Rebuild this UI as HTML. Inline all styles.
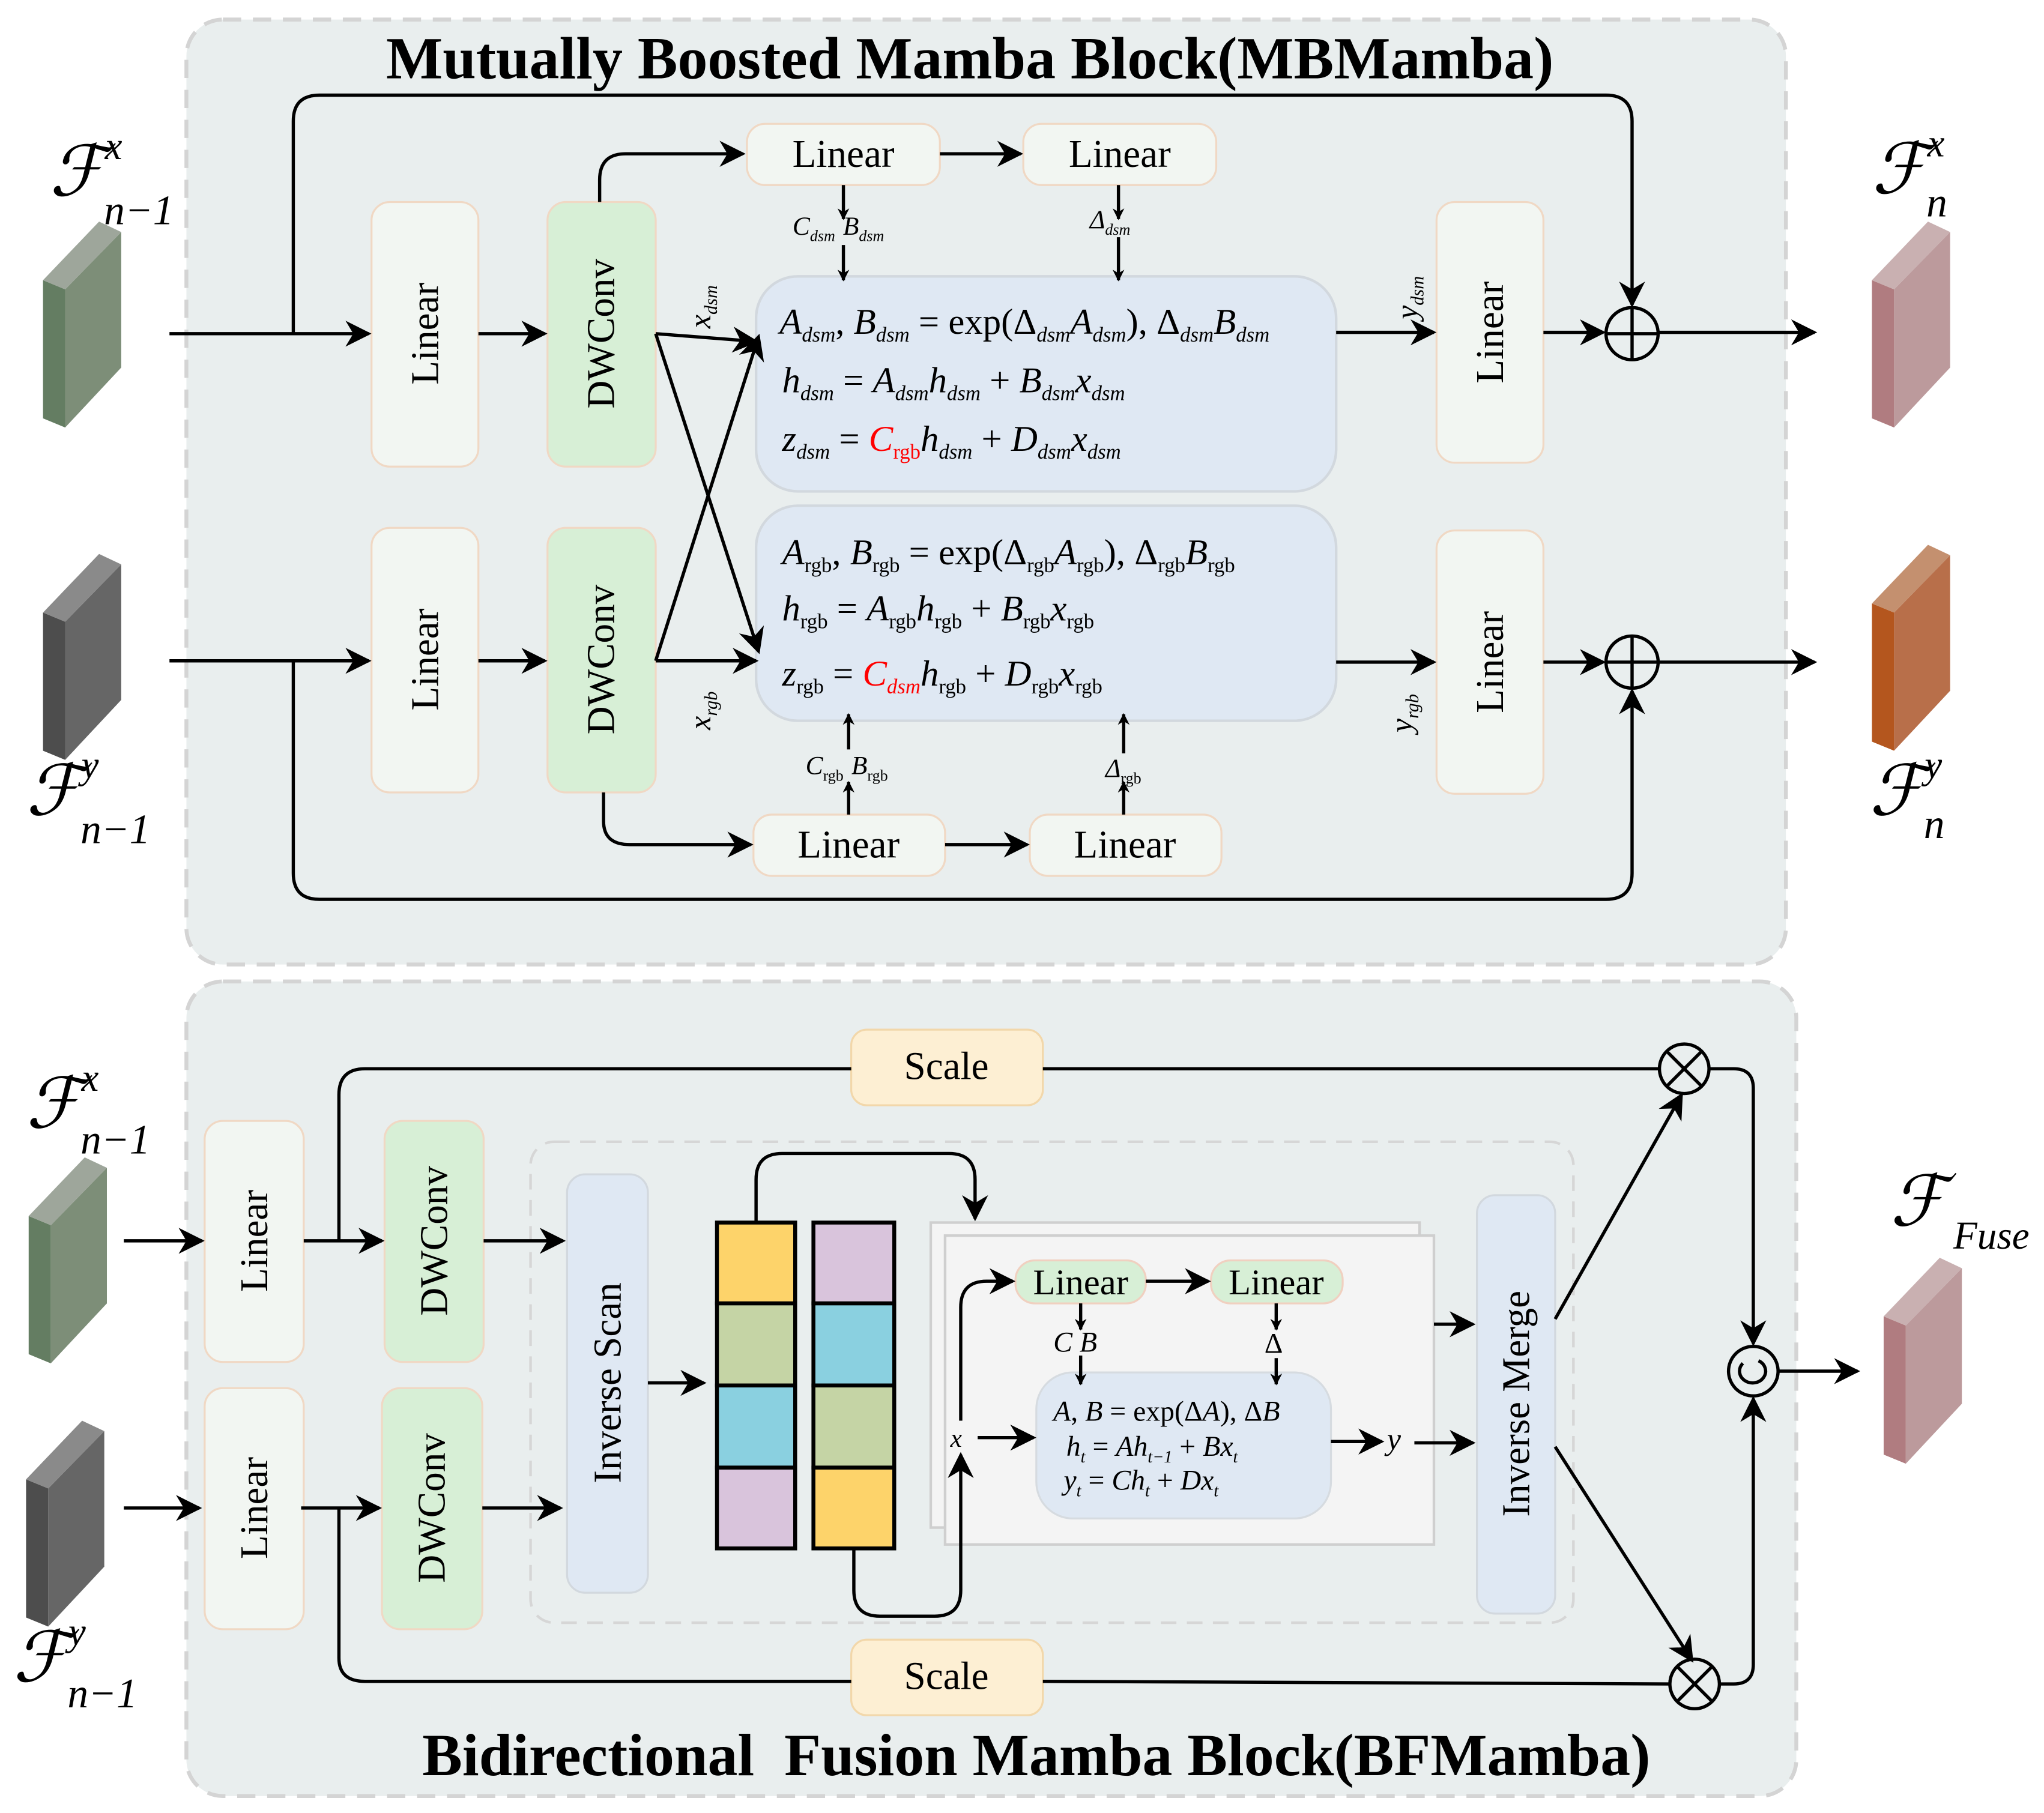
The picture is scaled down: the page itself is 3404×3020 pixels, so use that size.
<!DOCTYPE html>
<html><head><meta charset="utf-8"><style>html,body{margin:0;padding:0;background:#fff}svg{display:block}</style></head><body>
<svg width="3404" height="3020" viewBox="0 0 1568 1391" preserveAspectRatio="none" xmlns="http://www.w3.org/2000/svg" font-family="'Liberation Serif', serif">
<defs>
<marker id="a" viewBox="0 0 10 10" refX="9" refY="5" markerWidth="9" markerHeight="9" markerUnits="userSpaceOnUse" orient="auto"><path d="M0,0 L10,5 L0,10 L3,5 z" fill="#000"/></marker>
<marker id="b" viewBox="0 0 10 10" refX="9" refY="5" markerWidth="20" markerHeight="20" markerUnits="userSpaceOnUse" orient="auto"><path d="M0,0 L10,5 L0,10 L3,5 z" fill="#000"/></marker>
</defs>
<rect x="143" y="15" width="1227" height="725" rx="28" fill="#e9eeee" stroke="#d4d4d4" stroke-width="3" stroke-dasharray="14,9"/>
<rect x="143" y="753" width="1235" height="625" rx="28" fill="#e9eeee" stroke="#d4d4d4" stroke-width="3" stroke-dasharray="14,9"/>
<text x="744" y="60" font-size="46" font-weight="bold" text-anchor="middle">Mutually Boosted Mamba Block(MBMamba)</text>
<text x="795" y="1362" font-size="46" font-weight="bold" text-anchor="middle" xml:space="preserve">Bidirectional  Fusion Mamba Block(BFMamba)</text>

<g transform="translate(33,170)"><polygon points="0,45 17,52 17,158 0,151" fill="#647d62"/><polygon points="17,52 60,8 60,112 17,158" fill="#7d8e78"/><polygon points="0,45 43,0 60,8 17,52" fill="#9ea69b"/></g>
<g transform="translate(33,425)"><polygon points="0,45 17,52 17,158 0,151" fill="#4d4d4d"/><polygon points="17,52 60,8 60,112 17,158" fill="#666"/><polygon points="0,45 43,0 60,8 17,52" fill="#8a8a8a"/></g>
<g transform="translate(1436,170)"><polygon points="0,45 17,52 17,158 0,151" fill="#b07c80"/><polygon points="17,52 60,8 60,112 17,158" fill="#bc9a9c"/><polygon points="0,45 43,0 60,8 17,52" fill="#c9b0b1"/></g>
<g transform="translate(1436,418)"><polygon points="0,45 17,52 17,158 0,151" fill="#b4561e"/><polygon points="17,52 60,8 60,112 17,158" fill="#b86f4a"/><polygon points="0,45 43,0 60,8 17,52" fill="#c4906f"/></g>
<g transform="translate(22,888)"><polygon points="0,45 17,52 17,158 0,151" fill="#647d62"/><polygon points="17,52 60,8 60,112 17,158" fill="#7d8e78"/><polygon points="0,45 43,0 60,8 17,52" fill="#9ea69b"/></g>
<g transform="translate(20,1090)"><polygon points="0,45 17,52 17,158 0,151" fill="#4d4d4d"/><polygon points="17,52 60,8 60,112 17,158" fill="#666"/><polygon points="0,45 43,0 60,8 17,52" fill="#8a8a8a"/></g>
<g transform="translate(1445,965)"><polygon points="0,45 17,52 17,158 0,151" fill="#b07c80"/><polygon points="17,52 60,8 60,112 17,158" fill="#bc9a9c"/><polygon points="0,45 43,0 60,8 17,52" fill="#c9b0b1"/></g>

<g font-style="italic" font-size="54">
<text x="38" y="150">ℱ<tspan font-size="30" dy="-28">x</tspan><tspan font-size="32" dx="-14" dy="50">n−1</tspan></text>
<text x="20" y="625">ℱ<tspan font-size="30" dy="-28">y</tspan><tspan font-size="32" dx="-14" dy="50">n−1</tspan></text>
<text x="1436" y="148">ℱ<tspan font-size="30" dy="-28">x</tspan><tspan font-size="32" dx="-14" dy="46">n</tspan></text>
<text x="1434" y="625">ℱ<tspan font-size="30" dy="-28">y</tspan><tspan font-size="32" dx="-14" dy="46">n</tspan></text>
<text x="20" y="865">ℱ<tspan font-size="30" dy="-28">x</tspan><tspan font-size="32" dx="-14" dy="48">n−1</tspan></text>
<text x="10" y="1290">ℱ<tspan font-size="30" dy="-28">y</tspan><tspan font-size="32" dx="-14" dy="48">n−1</tspan></text>
<text x="1450" y="940">ℱ<tspan font-size="30" dx="6" dy="18">Fuse</tspan></text>
</g>

<g stroke="#f0d8c4" stroke-width="1.5">
<rect x="285" y="155" width="82" height="203" rx="14" fill="#f2f6f2"/>
<rect x="285" y="405" width="82" height="203" rx="14" fill="#f2f6f2"/>
<rect x="420" y="155" width="83" height="203" rx="14" fill="#d7efd6"/>
<rect x="420" y="405" width="83" height="203" rx="14" fill="#d7efd6"/>
<rect x="573" y="95" width="148" height="47" rx="14" fill="#f2f6f2"/>
<rect x="785" y="95" width="148" height="47" rx="14" fill="#f2f6f2"/>
<rect x="578" y="625" width="147" height="47" rx="14" fill="#f2f6f2"/>
<rect x="790" y="625" width="147" height="47" rx="14" fill="#f2f6f2"/>
<rect x="1102" y="155" width="82" height="200" rx="14" fill="#f2f6f2"/>
<rect x="1102" y="407" width="82" height="202" rx="14" fill="#f2f6f2"/>
</g>
<rect x="580" y="212" width="445" height="165" rx="32" fill="#dfe8f3" stroke="#d2d8de" stroke-width="2"/>
<rect x="580" y="388" width="445" height="165" rx="32" fill="#dfe8f3" stroke="#d2d8de" stroke-width="2"/>
<g font-size="30" text-anchor="middle">
<text x="647" y="128">Linear</text><text x="859" y="128">Linear</text>
<text x="651" y="658">Linear</text><text x="863" y="658">Linear</text>
<text transform="rotate(-90,326,256)" x="326" y="266">Linear</text>
<text transform="rotate(-90,326,506)" x="326" y="516">Linear</text>
<text transform="rotate(-90,461,256)" x="461" y="266">DWConv</text>
<text transform="rotate(-90,461,506)" x="461" y="516">DWConv</text>
<text transform="rotate(-90,1143,255)" x="1143" y="265">Linear</text>
<text transform="rotate(-90,1143,508)" x="1143" y="518">Linear</text>
</g>
<g font-size="28" font-style="italic">
<text x="598" y="256">A<tspan font-size="16" dy="6">dsm</tspan><tspan dy="-6" font-style="normal">, </tspan>B<tspan font-size="16" dy="6">dsm</tspan><tspan dy="-6" font-style="normal"> = exp(Δ</tspan><tspan font-size="16" dy="6">dsm</tspan><tspan dy="-6">A</tspan><tspan font-size="16" dy="6">dsm</tspan><tspan dy="-6" font-style="normal">), Δ</tspan><tspan font-size="16" dy="6">dsm</tspan><tspan dy="-6">B</tspan><tspan font-size="16" dy="6">dsm</tspan></text>
<text x="600" y="301">h<tspan font-size="16" dy="6">dsm</tspan><tspan dy="-6" font-style="normal"> = </tspan>A<tspan font-size="16" dy="6">dsm</tspan><tspan dy="-6">h</tspan><tspan font-size="16" dy="6">dsm</tspan><tspan dy="-6" font-style="normal"> + </tspan>B<tspan font-size="16" dy="6">dsm</tspan><tspan dy="-6">x</tspan><tspan font-size="16" dy="6">dsm</tspan></text>
<text x="600" y="346">z<tspan font-size="16" dy="6">dsm</tspan><tspan dy="-6" font-style="normal"> = </tspan><tspan fill="#f00">C</tspan><tspan font-size="16" dy="6" fill="#f00" font-style="normal">rgb</tspan><tspan dy="-6">h</tspan><tspan font-size="16" dy="6">dsm</tspan><tspan dy="-6" font-style="normal"> + </tspan>D<tspan font-size="16" dy="6">dsm</tspan><tspan dy="-6">x</tspan><tspan font-size="16" dy="6">dsm</tspan></text>
<text x="600" y="433">A<tspan font-size="16" dy="6" font-style="normal">rgb</tspan><tspan dy="-6" font-style="normal">, </tspan>B<tspan font-size="16" dy="6" font-style="normal">rgb</tspan><tspan dy="-6" font-style="normal"> = exp(Δ</tspan><tspan font-size="16" dy="6" font-style="normal">rgb</tspan><tspan dy="-6">A</tspan><tspan font-size="16" dy="6" font-style="normal">rgb</tspan><tspan dy="-6" font-style="normal">), Δ</tspan><tspan font-size="16" dy="6" font-style="normal">rgb</tspan><tspan dy="-6">B</tspan><tspan font-size="16" dy="6" font-style="normal">rgb</tspan></text>
<text x="600" y="476">h<tspan font-size="16" dy="6" font-style="normal">rgb</tspan><tspan dy="-6" font-style="normal"> = </tspan>A<tspan font-size="16" dy="6" font-style="normal">rgb</tspan><tspan dy="-6">h</tspan><tspan font-size="16" dy="6" font-style="normal">rgb</tspan><tspan dy="-6" font-style="normal"> + </tspan>B<tspan font-size="16" dy="6" font-style="normal">rgb</tspan><tspan dy="-6">x</tspan><tspan font-size="16" dy="6" font-style="normal">rgb</tspan></text>
<text x="600" y="526">z<tspan font-size="16" dy="6" font-style="normal">rgb</tspan><tspan dy="-6" font-style="normal"> = </tspan><tspan fill="#f00">C</tspan><tspan font-size="16" dy="6" fill="#f00">dsm</tspan><tspan dy="-6">h</tspan><tspan font-size="16" dy="6" font-style="normal">rgb</tspan><tspan dy="-6" font-style="normal"> + </tspan>D<tspan font-size="16" dy="6" font-style="normal">rgb</tspan><tspan dy="-6">x</tspan><tspan font-size="16" dy="6" font-style="normal">rgb</tspan></text>
</g>
<g font-size="20" font-style="italic">
<text x="608" y="180">C<tspan font-size="12" dy="5">dsm</tspan><tspan dx="6" dy="-5">B</tspan><tspan font-size="12" dy="5">dsm</tspan></text>
<text x="836" y="175">Δ<tspan font-size="12" dy="5">dsm</tspan></text>
<text x="618" y="594">C<tspan font-size="12" dy="5" font-style="normal">rgb</tspan><tspan dx="6" dy="-5">B</tspan><tspan font-size="12" dy="5" font-style="normal">rgb</tspan></text>
<text x="848" y="596">Δ<tspan font-size="12" dy="5" font-style="normal">rgb</tspan></text>
<text transform="rotate(-90,535,232)" x="515" y="242" font-size="24">x<tspan font-size="14" dy="5">dsm</tspan></text>
<text transform="rotate(-90,535,540)" x="515" y="550" font-size="24">x<tspan font-size="14" dy="5">rgb</tspan></text>
<text transform="rotate(-90,1077,225)" x="1057" y="235" font-size="24">y<tspan font-size="14" dy="5">dsm</tspan></text>
<text transform="rotate(-90,1073,542)" x="1053" y="552" font-size="24">y<tspan font-size="14" dy="5">rgb</tspan></text>
</g>
<g stroke="#000" stroke-width="2.5" fill="none">
<path d="M130,256 H283" marker-end="url(#b)"/>
<path d="M225,256 V93 Q225,73 245,73 H1232 Q1252,73 1252,93 V234" marker-end="url(#b)"/>
<path d="M367,256 H418" marker-end="url(#b)"/>
<path d="M460,155 V138 Q460,118 480,118 H570" marker-end="url(#b)"/>
<path d="M721,118 H783" marker-end="url(#b)"/>
<path d="M647,142 V168" marker-end="url(#a)"/><path d="M647,188 V215" marker-end="url(#a)"/>
<path d="M858,142 V168" marker-end="url(#a)"/><path d="M858,182 V215" marker-end="url(#a)"/>
<path d="M503,256 L580,262" marker-end="url(#b)"/>
<path d="M503,256 L582,500" marker-end="url(#b)"/>
<path d="M503,507 L582,258" marker-end="url(#b)"/>
<path d="M503,507 H580" marker-end="url(#b)"/>
<path d="M1025,255 H1100" marker-end="url(#b)"/>
<path d="M1184,255 H1230" marker-end="url(#b)"/>
<path d="M1272,255 H1392" marker-end="url(#b)"/>
<path d="M130,507 H283" marker-end="url(#b)"/>
<path d="M225,507 V670 Q225,690 245,690 H1232 Q1252,690 1252,670 V530" marker-end="url(#b)"/>
<path d="M367,507 H418" marker-end="url(#b)"/>
<path d="M463,608 V630 Q463,648 483,648 H576" marker-end="url(#b)"/>
<path d="M725,648 H788" marker-end="url(#b)"/>
<path d="M651,625 V600" marker-end="url(#a)"/><path d="M651,575 V548" marker-end="url(#a)"/>
<path d="M862,625 V600" marker-end="url(#a)"/><path d="M862,578 V548" marker-end="url(#a)"/>
<path d="M1025,508 H1100" marker-end="url(#b)"/>
<path d="M1184,508 H1230" marker-end="url(#b)"/>
<path d="M1272,508 H1392" marker-end="url(#b)"/>
<circle cx="1252" cy="256" r="20"/><path d="M1232,256 H1272 M1252,236 V276"/>
<circle cx="1252" cy="508" r="20"/><path d="M1232,508 H1272 M1252,488 V528"/>
</g>

<rect x="407" y="876" width="800" height="369" rx="18" fill="none" stroke="#d6d6d6" stroke-width="2" stroke-dasharray="12,8"/>
<g stroke="#f0d8c4" stroke-width="1.5">
<rect x="157" y="860" width="76" height="185" rx="14" fill="#f2f6f2"/>
<rect x="157" y="1065" width="76" height="185" rx="14" fill="#f2f6f2"/>
<rect x="295" y="860" width="76" height="185" rx="14" fill="#d7efd6"/>
<rect x="293" y="1065" width="77" height="185" rx="14" fill="#d7efd6"/>
</g>
<rect x="653" y="790" width="147" height="58" rx="12" fill="#fdefd3" stroke="#f2d7aa" stroke-width="1.5"/>
<rect x="653" y="1258" width="147" height="58" rx="12" fill="#fdefd3" stroke="#f2d7aa" stroke-width="1.5"/>
<rect x="435" y="901" width="62" height="321" rx="14" fill="#dfe8f3" stroke="#d2d8de" stroke-width="1.5"/>
<rect x="1133" y="917" width="60" height="321" rx="14" fill="#dfe8f3" stroke="#d2d8de" stroke-width="1.5"/>
<g stroke="#000" stroke-width="3">
<rect x="550" y="938" width="60" height="62" fill="#fdd36a"/><rect x="550" y="1000" width="60" height="63" fill="#c5d4a5"/><rect x="550" y="1063" width="60" height="63" fill="#8ad0e0"/><rect x="550" y="1126" width="60" height="62" fill="#d9c4dc"/>
<rect x="624" y="938" width="62" height="62" fill="#d9c4dc"/><rect x="624" y="1000" width="62" height="63" fill="#8ad0e0"/><rect x="624" y="1063" width="62" height="63" fill="#c5d4a5"/><rect x="624" y="1126" width="62" height="62" fill="#fdd36a"/>
</g>
<rect x="714" y="938" width="375" height="234" fill="#f4f4f4" stroke="#cfcfcf" stroke-width="2"/>
<rect x="725" y="948" width="375" height="237" fill="#f4f4f4" stroke="#cfcfcf" stroke-width="2"/>
<rect x="779" y="967" width="100" height="33" rx="15" fill="#d7efd6" stroke="#f0d0c0" stroke-width="1.5"/>
<rect x="929" y="967" width="101" height="33" rx="15" fill="#d7efd6" stroke="#f0d0c0" stroke-width="1.5"/>
<rect x="795" y="1053" width="226" height="112" rx="28" fill="#dfe8f3" stroke="#d6dbe0" stroke-width="1.5"/>
<g font-size="30" text-anchor="middle">
<text x="726" y="828">Scale</text><text x="726" y="1296">Scale</text>
<text x="829" y="993" font-size="28">Linear</text><text x="979" y="993" font-size="28">Linear</text>
<text transform="rotate(-90,195,952)" x="195" y="962">Linear</text>
<text transform="rotate(-90,195,1157)" x="195" y="1167">Linear</text>
<text transform="rotate(-90,333,952)" x="333" y="962">DWConv</text>
<text transform="rotate(-90,331,1157)" x="331" y="1167">DWConv</text>
<text transform="rotate(-90,466,1061)" x="466" y="1071">Inverse Scan</text>
<text transform="rotate(-90,1163,1077)" x="1163" y="1087">Inverse Merge</text>
</g>
<g font-size="22" font-style="italic">
<text x="808" y="1037">C B</text><text x="970" y="1038" font-style="normal">Δ</text>
<text x="729" y="1110" font-size="20">x</text><text x="1064" y="1112" font-size="24">y</text>
<text x="808" y="1090">A<tspan font-style="normal">, </tspan>B<tspan font-style="normal"> = exp(Δ</tspan>A<tspan font-style="normal">), Δ</tspan>B</text>
<text x="818" y="1117">h<tspan font-size="13" dy="5">t</tspan><tspan dy="-5" font-style="normal"> = </tspan>Ah<tspan font-size="13" dy="5">t−1</tspan><tspan dy="-5" font-style="normal"> + </tspan>Bx<tspan font-size="13" dy="5">t</tspan></text>
<text x="816" y="1143">y<tspan font-size="13" dy="5">t</tspan><tspan dy="-5" font-style="normal"> = </tspan>Ch<tspan font-size="13" dy="5">t</tspan><tspan dy="-5" font-style="normal"> + </tspan>Dx<tspan font-size="13" dy="5">t</tspan></text>
</g>
<g stroke="#000" stroke-width="2.5" fill="none">
<path d="M95,952 H155" marker-end="url(#b)"/>
<path d="M233,952 H293" marker-end="url(#b)"/>
<path d="M260,952 V840 Q260,820 280,820 H653 M800,820 H1273"/>
<path d="M371,952 H432" marker-end="url(#b)"/>
<path d="M95,1157 H153" marker-end="url(#b)"/>
<path d="M231,1157 H291" marker-end="url(#b)"/>
<path d="M260,1157 V1272 Q260,1290 280,1290 H653 M800,1290 L1281,1292"/>
<path d="M370,1157 H430" marker-end="url(#b)"/>
<path d="M497,1061 H540" marker-end="url(#b)"/>
<path d="M580,938 V905 Q580,885 600,885 H728 Q748,885 748,905 V935" marker-end="url(#b)"/>
<path d="M655,1188 V1220 Q655,1240 675,1240 H717 Q737,1240 737,1220 V1116" marker-end="url(#b)"/>
<path d="M737,1090 V1003 Q737,983 757,983 H777" marker-end="url(#b)"/>
<path d="M750,1103 H793" marker-end="url(#b)"/>
<path d="M879,983 H927" marker-end="url(#b)"/>
<path d="M829,1000 V1020" marker-end="url(#a)"/><path d="M829,1040 V1062" marker-end="url(#a)"/>
<path d="M979,1000 V1020" marker-end="url(#a)"/><path d="M979,1042 V1062" marker-end="url(#a)"/>
<path d="M1021,1106 H1060" marker-end="url(#b)"/>
<path d="M1085,1107 H1130" marker-end="url(#b)"/>
<path d="M1100,1016 H1130" marker-end="url(#b)"/>
<path d="M1193,1012 L1290,840" marker-end="url(#b)"/>
<path d="M1193,1110 L1298,1274" marker-end="url(#b)"/>
<path d="M1311,820 H1330 Q1345,820 1345,835 V1031" marker-end="url(#b)"/>
<path d="M1319,1292 H1330 Q1345,1292 1345,1277 V1073" marker-end="url(#b)"/>
<path d="M1365,1052 H1425" marker-end="url(#b)"/>
<circle cx="1292" cy="820" r="19"/><path d="M1279,807 L1305,833 M1305,807 L1279,833"/>
<circle cx="1300" cy="1292" r="19"/><path d="M1287,1279 L1313,1305 M1313,1279 L1287,1305"/>
<circle cx="1345" cy="1052" r="19"/>
<path d="M1337,1046 A10,9 0 1 0 1349,1044"/>
</g>
</svg>
</body></html>
